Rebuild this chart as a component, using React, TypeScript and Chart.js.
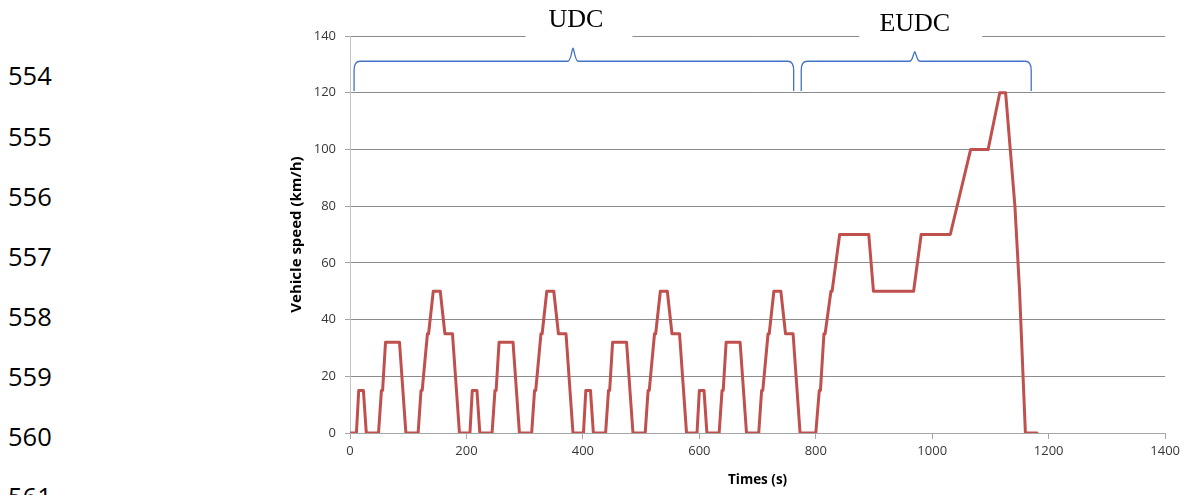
import React, { useEffect, useRef } from "react";
import { Chart, registerables } from "chart.js";

Chart.register(...registerables);

// NEDC speed profile: time (s) and vehicle speed (km/h) at each corner point
const times = [
  0, 11, 15, 23, 28, 49, 54, 56, 61, 85, 96, 117, 122, 124, 133, 135, 143, 155, 163, 176, 188,
  195, 206, 210, 218, 223, 244, 249, 251, 256, 280, 291, 312, 317, 319, 328, 330, 338, 350, 358, 371, 383,
  390, 401, 405, 413, 418, 439, 444, 446, 451, 475, 486, 507, 512, 514, 523, 525, 533, 545, 553, 566, 578,
  585, 596, 600, 608, 613, 634, 639, 641, 646, 670, 681, 702, 707, 709, 718, 720, 728, 740, 748, 761, 773,
  780, 800, 806, 808, 814, 816, 826, 828, 841, 891, 899, 968, 981, 1031, 1066, 1096, 1116, 1126, 1142, 1150, 1160, 1180,
];
const speeds = [
  0, 0, 15, 15, 0, 0, 15, 15, 32, 32, 0, 0, 15, 15, 35, 35, 50, 50, 35, 35, 0,
  0, 0, 15, 15, 0, 0, 15, 15, 32, 32, 0, 0, 15, 15, 35, 35, 50, 50, 35, 35, 0,
  0, 0, 15, 15, 0, 0, 15, 15, 32, 32, 0, 0, 15, 15, 35, 35, 50, 50, 35, 35, 0,
  0, 0, 15, 15, 0, 0, 15, 15, 32, 32, 0, 0, 15, 15, 35, 35, 50, 50, 35, 35, 0,
  0, 0, 15, 15, 35, 35, 50, 50, 70, 70, 50, 50, 70, 70, 100, 100, 120, 120, 80, 50, 0, 0,
];

const xTicks = [0, 200, 400, 600, 800, 1000, 1200, 1400];
const yTicks = [0, 20, 40, 60, 80, 100, 120, 140];

// Phase braces above the curve (time span, centre, brace tip value)
const phaseLabels = ["UDC", "EUDC"];
const phaseStart = [7, 775];
const phaseEnd = [762, 1170];
const phaseMid = [383, 970];
const phasePeak = [135.7, 134.5];
const braceBase = 120.6;
const braceLevel = 131.1;

// Document line numbers in the left margin
const lineNumbers = ["554", "555", "556", "557", "558", "559", "560", "561"];

const phasePlugin = {
  id: "phases",
  afterDraw(chart: any) {
    const { ctx, chartArea } = chart;
    const xs = chart.scales.x;
    const ys = chart.scales.y;
    ctx.save();
    ctx.font = '26px "Liberation Serif", serif';
    phaseLabels.forEach((label, i) => {
      const xm = xs.getPixelForValue(phaseMid[i]);
      const tw = ctx.measureText(label).width;
      const bw = tw + 52;
      ctx.fillStyle = "#ffffff";
      ctx.fillRect(xm + 6 - bw / 2, 0, bw, chartArea.top + 4);
      ctx.fillStyle = "#000000";
      ctx.textAlign = "center";
      ctx.textBaseline = "alphabetic";
      ctx.fillText(label, xm + (i === 0 ? 3 : 0), chartArea.top - (i === 0 ? 9 : 5.5));

      const x0 = xs.getPixelForValue(phaseStart[i]);
      const x1 = xs.getPixelForValue(phaseEnd[i]);
      const yB = ys.getPixelForValue(braceBase);
      const yH = ys.getPixelForValue(braceLevel);
      const yP = ys.getPixelForValue(phasePeak[i]);
      ctx.strokeStyle = "#4472C4";
      ctx.lineWidth = 1.3;
      ctx.beginPath();
      ctx.moveTo(x0, yB);
      ctx.lineTo(x0, yH + 9);
      ctx.quadraticCurveTo(x0, yH, x0 + 6, yH);
      ctx.lineTo(xm - 5, yH);
      ctx.bezierCurveTo(xm - 2, yH, xm - 1, yP, xm, yP);
      ctx.bezierCurveTo(xm + 1, yP, xm + 2, yH, xm + 5, yH);
      ctx.lineTo(x1 - 6, yH);
      ctx.quadraticCurveTo(x1, yH, x1, yH + 9);
      ctx.lineTo(x1, yB);
      ctx.stroke();
    });
    ctx.restore();
  },
};

export default function App() {
  const ref = useRef<HTMLCanvasElement>(null);

  useEffect(() => {
    if (!ref.current) return;
    Chart.defaults.font.family = '"Open Sans", sans-serif';
    const chart = new Chart(ref.current, {
      type: "line",
      data: {
        datasets: [
          {
            label: "Vehicle speed",
            data: times.map((t, i) => ({ x: t, y: speeds[i] })),
            borderColor: "#C0504D",
            backgroundColor: "#C0504D",
            borderWidth: 3,
            pointRadius: 0,
            tension: 0,
            borderJoinStyle: "round",
            borderCapStyle: "round",
          },
        ],
      },
      options: {
        animation: false,
        responsive: false,
        events: [],
        layout: { padding: { left: 280, right: 18, top: 36, bottom: 0 } },
        plugins: {
          legend: { display: false },
          tooltip: { enabled: false },
        },
        scales: {
          x: {
            type: "linear",
            min: 0,
            max: 1400,
            afterBuildTicks: (s: any) => {
              s.ticks = xTicks.map((v) => ({ value: v }));
            },
            afterFit: (s: any) => {
              s.height = 62;
            },
            ticks: {
              color: "#383838",
              font: { size: 13 },
              padding: 4,
              maxRotation: 0,
              callback: (v: any) => String(v),
            },
            grid: {
              drawOnChartArea: false,
              drawTicks: true,
              tickLength: 6,
              color: "#a6a6a6",
              tickColor: "#a6a6a6",
            },
            border: { display: true, color: "#a6a6a6", width: 1 },
            title: {
              display: true,
              text: "Times (s)",
              color: "#000000",
              font: { size: 13.5, weight: "bold" },
              padding: { top: 0, bottom: 7 },
            },
          },
          y: {
            type: "linear",
            min: 0,
            max: 140,
            afterBuildTicks: (s: any) => {
              s.ticks = yTicks.map((v) => ({ value: v }));
            },
            afterFit: (s: any) => {
              s.width = 70;
            },
            ticks: {
              color: "#383838",
              font: { size: 13 },
              padding: 9,
              callback: (v: any) => String(v),
            },
            grid: {
              drawTicks: true,
              tickLength: 5,
              color: "#8c8c8c",
              tickColor: "#a6a6a6",
            },
            border: { display: true, color: "#c4c4c4", width: 1 },
            title: {
              display: true,
              text: "Vehicle speed (km/h)",
              color: "#000000",
              font: { size: 15, weight: "bold" },
              padding: { top: 8, bottom: 0 },
            },
          },
        },
      },
      plugins: [phasePlugin],
    });
    return () => chart.destroy();
  }, []);

  return (
    <div
      style={{
        position: "fixed",
        left: 0,
        top: 0,
        width: 1184,
        height: 495,
        background: "#ffffff",
        overflow: "hidden",
      }}
    >
      {lineNumbers.map((n, i) => (
        <div
          key={n}
          style={{
            position: "absolute",
            left: 8,
            top: 86 + i * 60.15 - 22.6,
            fontFamily: '"Open Sans", sans-serif',
            fontSize: 25.5,
            lineHeight: "25.5px",
            color: "#000000",
            whiteSpace: "nowrap",
          }}
        >
          {n}
        </div>
      ))}
      <canvas
        ref={ref}
        width={1184}
        height={495}
        style={{ position: "absolute", left: 0, top: 0, display: "block" }}
      />
    </div>
  );
}
